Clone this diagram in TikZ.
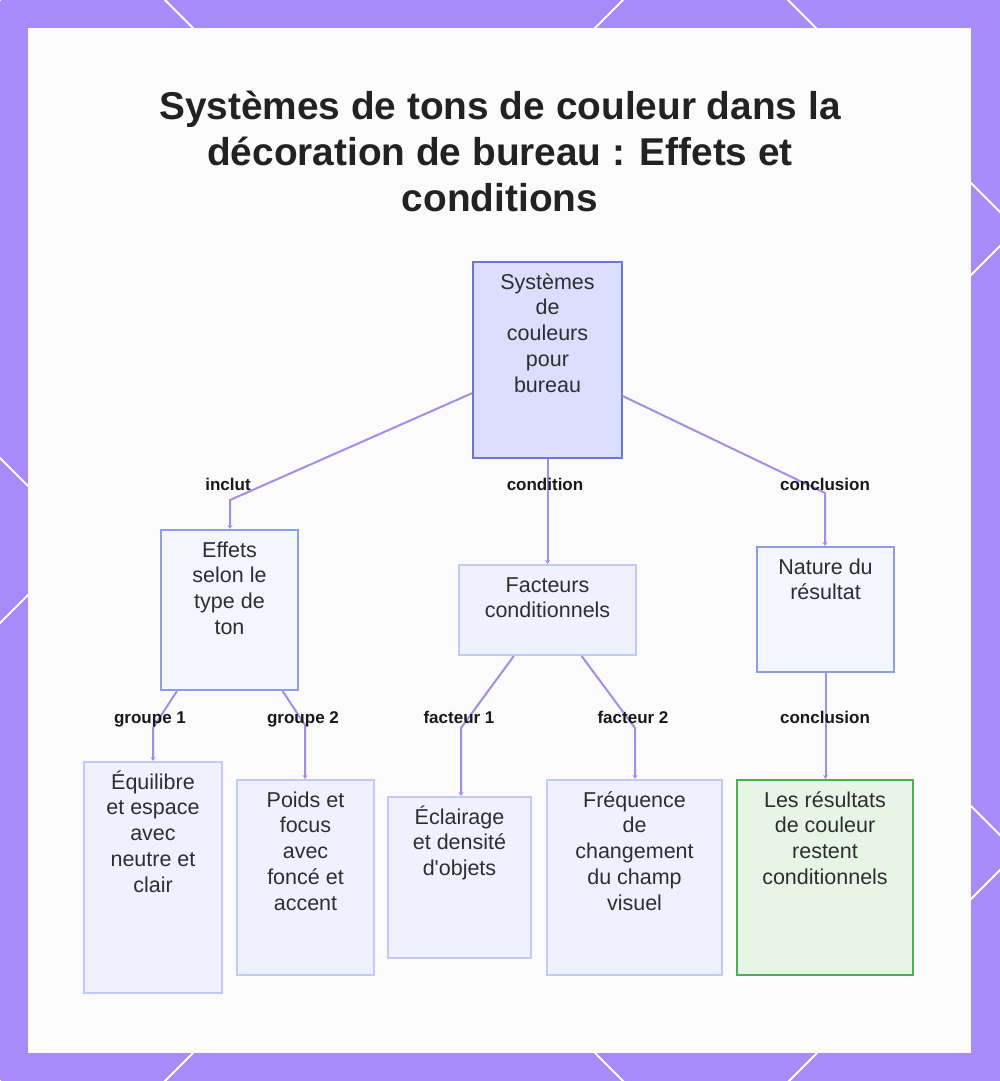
\documentclass[tikz,border=0pt]{standalone}
\usepackage{fontspec}
\setmainfont{Liberation Sans}
\usetikzlibrary{positioning,arrows.meta}
\usepackage{xcolor}
\definecolor{framepurple}{HTML}{A78BFA}
\definecolor{panelwhite}{HTML}{FBFBFB}
\definecolor{linkpurple}{HTML}{A58CE6}
\definecolor{rootfill}{HTML}{DCDEFE}
\definecolor{rootdraw}{HTML}{6D76D2}
\definecolor{midfill}{HTML}{F3F5FF}
\definecolor{middraw}{HTML}{8C9EE4}
\definecolor{leaffill}{HTML}{EFF1FF}
\definecolor{leafdraw}{HTML}{C3C9F5}
\definecolor{endfill}{HTML}{E7F5E7}
\definecolor{enddraw}{HTML}{4CAF50}
\definecolor{inkgray}{HTML}{2E2E2E}
\definecolor{titleink}{HTML}{222222}
\newcommand{\boxtext}[2]{\parbox[c][#1pt][t]{130pt}{\centering\rule{0pt}{20pt}#2}}

\begin{document}
\begin{tikzpicture}[x=1pt, y=-1pt,
    box/.style={draw, line width=2pt, inner xsep=0pt, inner ysep=7pt, font=\fontsize{21.5}{25.8}\selectfont, text=inkgray},
    rootbox/.style={box, fill=rootfill, draw=rootdraw},
    midbox/.style={box, fill=midfill, draw=middraw},
    leafbox/.style={box, fill=leaffill, draw=leafdraw},
    endbox/.style={box, fill=endfill, draw=enddraw},
    link/.style={draw=linkpurple, line width=2pt, -{Stealth[length=4pt, width=5pt]}},
    lbl/.style={font=\fontsize{17}{20}\selectfont\bfseries, text=black!90, inner sep=0pt, anchor=base},
    title/.style={font=\fontsize{38.8}{46}\selectfont\bfseries, text=titleink, align=center}]
  \useasboundingbox (0,0) rectangle (1000,1081);
  % frame with diagonal lattice
  \fill[framepurple] (0,0) rectangle (1000,1081);
  \begin{scope}
    \clip (0,0) rectangle (1000,1081);
    \foreach \c in {-788,-165,458,1081}
      \draw[white, line width=2pt] (-100,-100+\c) -- (1200,1200+\c);
    \foreach \c in {0,623,1246,1870}
      \draw[white, line width=2pt] (-100,\c+100) -- (1200,\c-1200);
  \end{scope}
  \fill[panelwhite] (28,28) rectangle (971,1053);

  \node[title] (title) at (500,151) {Systèmes de tons de couleur dans la\\décoration de bureau : Effets et\\conditions};

  % boxes
  \node[rootbox, minimum width=149, minimum height=196] (root) at (547.5,360) {\boxtext{182}{Systèmes\\de\\couleurs\\pour\\bureau}};
  \node[midbox, minimum width=137, minimum height=160] (effets) at (229.5,610) {\boxtext{146}{Effets\\selon le\\type de\\ton}};
  \node[leafbox, minimum width=177, minimum height=90] (facteurs) at (547.5,610) {\boxtext{76}{Facteurs\\conditionnels}};
  \node[midbox, minimum width=137, minimum height=125] (nature) at (825.5,609.5) {\boxtext{111}{Nature du\\résultat}};
  \node[leafbox, minimum width=138, minimum height=231] (equilibre) at (153,877.5) {\boxtext{217}{Équilibre\\et espace\\avec\\neutre et\\clair}};
  \node[leafbox, minimum width=137, minimum height=195] (poids) at (305.5,877.5) {\boxtext{181}{Poids et\\focus\\avec\\foncé et\\accent}};
  \node[leafbox, minimum width=143, minimum height=161] (eclairage) at (459.5,877.5) {\boxtext{147}{Éclairage\\et densité\\d\textquotesingle objets}};
  \node[leafbox, minimum width=175, minimum height=195] (frequence) at (634.5,877.5) {\boxtext{181}{Fréquence\\de\\changement\\du champ\\visuel}};
  \node[endbox, minimum width=176, minimum height=195] (resultats) at (825,877.5) {\boxtext{181}{Les résultats\\de couleur\\restent\\conditionnels}};

  % bends
  \coordinate (kinc) at (230,500);
  \coordinate (kcon) at (825,493);
  \coordinate (kg1) at (153,728);
  \coordinate (kg2) at (305,725);
  \coordinate (kf1) at (461,728);
  \coordinate (kf2) at (635,728);

  \draw[link] (root) -- (kinc) -- (kinc |- effets.north);
  \draw[link] (root) -- (facteurs);
  \draw[link] (root) -- (kcon) -- (kcon |- nature.north);
  \draw[link] (effets) -- (kg1) -- (kg1 |- equilibre.north);
  \draw[link] (effets) -- (kg2) -- (kg2 |- poids.north);
  \draw[link] (facteurs) -- (kf1) -- (kf1 |- eclairage.north);
  \draw[link] (facteurs) -- (kf2) -- (kf2 |- frequence.north);
  \draw[link] (nature.south) -- (nature.south |- resultats.north);

  % edge labels
  \node[lbl] (linc) at (228,490) {inclut};
  \node[lbl] (lcond) at (545,490) {condition};
  \node[lbl] (lconc) at (825,490) {conclusion};
  \node[lbl] (lg1) at (150,723) {groupe 1};
  \node[lbl] (lg2) at (303,723) {groupe 2};
  \node[lbl] (lf1) at (459,723) {facteur 1};
  \node[lbl] (lf2) at (633,723) {facteur 2};
  \node[lbl] (lres) at (825,723) {conclusion};
\end{tikzpicture}
\end{document}
